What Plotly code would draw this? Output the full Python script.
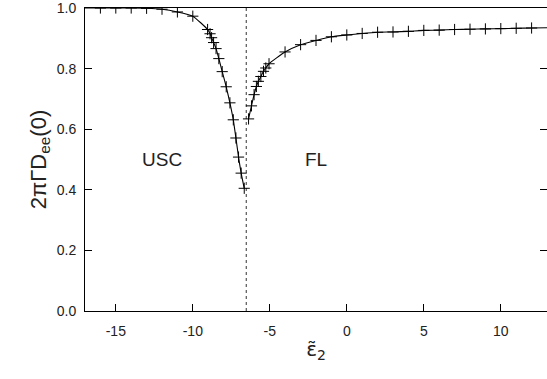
import plotly.graph_objects as go

# USC branch (left of transition)
usc_x = [-16.0, -15.0, -14.0, -13.0, -12.0, -11.0, -10.0,
         -9.04, -8.88, -8.78, -8.65, -8.49, -8.31, -8.09, -7.83,
         -7.59, -7.37, -7.20, -7.03, -6.86, -6.66]
usc_y = [1.000, 1.000, 1.000, 0.999, 0.996, 0.987, 0.973,
         0.929, 0.915, 0.902, 0.886, 0.866, 0.833, 0.790, 0.740,
         0.687, 0.631, 0.571, 0.508, 0.455, 0.405]

# FL branch (right of transition)
fl_x = [-6.38, -6.19, -6.02, -5.87, -5.74, -5.58, -5.41, -5.26, -5.05,
        -4.01, -3.0, -2.0, -1.0, 0.0, 1.0, 2.0, 3.0, 4.0, 5.0, 6.0,
        7.0, 8.0, 9.0, 10.0, 11.0, 12.0]
fl_y = [0.634, 0.677, 0.714, 0.741, 0.758, 0.774, 0.791, 0.802, 0.816,
        0.855, 0.879, 0.893, 0.905, 0.911, 0.916, 0.920, 0.921, 0.923,
        0.926, 0.927, 0.929, 0.930, 0.931, 0.932, 0.933, 0.934]

# curve continues to the frame edges
usc_start = (-17.0, 1.0)
fl_end = (13.0, 0.935)

transition_x = -6.53
x_ticks = [-15, -10, -5, 0, 5, 10]
x_tick_labels = ["-15", "-10", "-5", "0", "5", "10"]
y_ticks = [0.0, 0.2, 0.4, 0.6, 0.8, 1.0]
y_tick_labels = ["0.0", "0.2", "0.4", "0.6", "0.8", "1.0"]
x_range = [-17, 13]
y_range = [0, 1]

fig = go.Figure()

fig.add_trace(go.Scatter(x=[transition_x, transition_x], y=y_range, mode="lines",
                         line=dict(color="#333333", width=1, dash="dot"),
                         hoverinfo="skip", showlegend=False))

fig.add_trace(go.Scatter(x=[usc_start[0]] + usc_x, y=[usc_start[1]] + usc_y,
                         mode="lines", line=dict(color="black", width=1.1, shape="spline", smoothing=0.5),
                         showlegend=False))
fig.add_trace(go.Scatter(x=fl_x + [fl_end[0]], y=fl_y + [fl_end[1]],
                         mode="lines", line=dict(color="black", width=1.1, shape="spline", smoothing=0.5),
                         showlegend=False))

for xs, ys in [(usc_x, usc_y), (fl_x, fl_y)]:
    fig.add_trace(go.Scatter(x=xs, y=ys, mode="markers",
                             marker=dict(symbol="cross-thin", size=8,
                                         line=dict(color="black", width=1)),
                             showlegend=False))

fig.add_annotation(x=-12.0, y=0.5, text="USC", showarrow=False,
                   font=dict(family="Liberation Sans, Arial", size=19, color="#222"))
fig.add_annotation(x=-2.0, y=0.5, text="FL", showarrow=False,
                   font=dict(family="Liberation Sans, Arial", size=19, color="#222"))

fig.update_layout(
    width=547, height=379,
    margin=dict(l=85, r=0, t=8, b=68),
    plot_bgcolor="white", paper_bgcolor="white",
    font=dict(family="Liberation Sans, Arial", size=14, color="#222"),
)
fig.update_xaxes(range=x_range, tickvals=x_ticks, ticktext=x_tick_labels,
                 ticks="inside", ticklen=7, ticklabelstandoff=7,
                 tickcolor="black", showline=True, linecolor="black", linewidth=1,
                 mirror=True, showgrid=False, zeroline=False,
                 title=dict(text="ε̃<sub>2</sub>",
                            font=dict(family="DejaVu Sans", size=20), standoff=4))
fig.update_yaxes(range=y_range, tickvals=y_ticks, ticktext=y_tick_labels,
                 ticks="inside", ticklabeloverflow="allow", ticklabelstandoff=5,
                 ticklen=7, tickcolor="black", showline=True, linecolor="black",
                 linewidth=1, mirror="ticks", showgrid=False, zeroline=False,
                 title=dict(text="2πΓD<sub>ee</sub>(0)", font=dict(size=22), standoff=4))

fig.write_html("out.html")
